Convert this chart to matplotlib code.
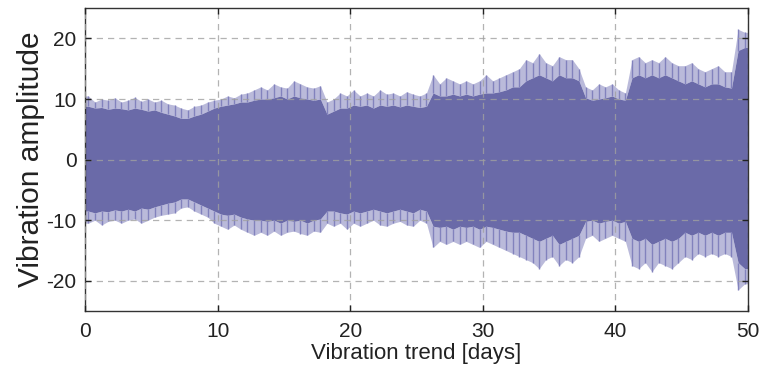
import numpy as np
import matplotlib
matplotlib.use('Agg')
import matplotlib.pyplot as plt

plt.rcParams['font.family'] = ['Liberation Sans', 'DejaVu Sans']
plt.rcParams['axes.unicode_minus'] = False

# envelope of the vibration signal, one value per half day (centres at 0.25, 0.75, ...)
days = np.arange(0.25, 50, 0.5)

upper_body = [
    8.8, 8.5, 8.6, 8.3, 8.5, 8.4, 8.2, 8.5, 8.3, 8.0, 8.2, 7.8, 7.5, 7.2,
    6.8, 6.8, 7.2, 7.5, 8.0, 8.5,
    8.8, 9.0, 9.2, 9.5, 9.5, 9.8,
    10.0, 10.0, 10.2, 10.5, 10.0, 10.5, 10.2, 10.0, 9.8, 10.0,
    7.5, 8.0, 8.5, 8.5,
    9.0, 8.8, 9.0, 8.5, 9.0, 8.8, 9.0, 8.7, 9.0, 8.8, 8.6, 8.8,
    11.0, 10.5, 10.5, 10.8, 10.5, 10.8, 10.5, 10.8, 11.0, 11.0, 11.2, 11.5, 12.0, 12.0,
    13.0, 13.5, 14.0, 13.5, 13.0, 14.0, 13.5, 13.5, 13.0,
    10.2, 9.8, 10.0, 10.2, 10.5, 10.0, 9.8,
    13.5, 14.0, 13.5, 14.0, 13.5, 14.0, 13.5, 13.0,
    12.5, 13.0, 12.5, 12.0, 12.5, 12.5, 12.0, 11.8,
    18.0, 18.5,
]
upper_peak = [
    10.5, 9.5, 10.0, 9.8, 10.2, 9.5, 9.8, 10.3, 9.6, 10.0, 9.5, 9.8, 9.2, 9.0,
    8.5, 8.2, 8.8, 9.0, 9.5, 9.8,
    10.0, 10.5, 10.2, 10.8, 11.0, 11.5,
    12.0, 11.5, 12.5, 12.0, 11.8, 13.0, 12.5, 12.0, 11.8, 12.2,
    9.5, 10.0, 11.0, 10.5,
    11.5, 10.5, 11.0, 10.5, 11.5, 10.8, 11.0, 10.5, 11.2, 10.8, 10.5, 11.0,
    14.0, 12.5, 13.5, 13.0, 12.5, 13.0, 12.5, 13.0, 14.0, 13.0, 13.5, 14.0, 14.5, 15.0,
    16.5, 16.0, 17.5, 16.0, 15.5, 17.0, 16.5, 16.5, 15.0,
    12.0, 11.5, 12.5, 12.0, 12.5, 11.5, 11.0,
    16.5, 17.0, 16.0, 16.5, 16.0, 17.0, 16.0, 15.5,
    15.5, 16.0, 15.0, 14.5, 15.0, 15.5, 14.5, 14.5,
    21.5, 21.0,
]
lower_body = [
    -8.5, -8.8, -8.5, -8.6, -8.3, -8.5, -8.2, -8.5, -8.0, -8.2, -7.8, -7.5, -7.2, -7.0,
    -6.5, -6.5, -7.0, -7.5, -8.0, -8.5,
    -9.0, -9.2, -9.0, -9.5, -9.8, -10.0,
    -10.0, -10.2, -10.0, -10.5, -10.0, -10.2, -10.0, -10.5, -10.0, -9.8,
    -8.5, -8.5, -8.8, -9.0,
    -8.5, -8.8, -8.5, -8.2, -8.5, -8.8, -8.5, -8.2, -8.5, -8.8, -8.2, -8.5,
    -11.0, -11.2, -11.0, -11.5, -11.0, -11.2, -11.0, -11.5, -11.0, -11.2, -11.5, -11.8, -12.0, -12.0,
    -12.5, -13.0, -13.5, -13.0, -12.5, -14.0, -13.5, -13.0, -12.5,
    -10.2, -10.0, -10.5, -10.2, -10.0, -10.5, -10.2,
    -13.0, -13.5, -13.0, -14.0, -13.5, -13.0, -13.5, -13.0,
    -12.0, -12.5, -12.0, -12.5, -12.0, -12.5, -12.0, -12.0,
    -17.0, -18.0,
]
lower_peak = [
    -10.5, -10.0, -10.8, -10.2, -10.0, -10.5, -10.0, -9.8, -10.5, -10.0, -9.5, -9.2, -9.0, -8.8,
    -8.0, -7.8, -8.5, -9.0, -9.5, -10.5,
    -11.0, -11.5, -10.8, -11.5, -12.0, -12.5,
    -12.0, -12.5, -11.8, -12.5, -12.0, -11.8, -12.2, -12.5, -11.8, -12.0,
    -10.5, -11.0, -10.5, -11.5,
    -10.5, -11.0, -10.5, -10.0, -10.8, -11.0, -10.5, -10.2, -10.8, -11.0, -10.0, -10.5,
    -14.5, -13.5, -14.0, -13.5, -14.0, -13.5, -14.0, -14.5, -13.5, -14.0, -14.5, -15.0, -15.5, -16.0,
    -16.5, -17.0, -18.0, -16.5, -16.0, -17.5, -16.5, -17.0, -16.0,
    -13.0, -12.5, -13.5, -13.0, -12.5, -13.0, -13.5,
    -17.5, -18.0, -17.0, -18.5, -17.0, -17.5, -18.0, -17.0,
    -16.0, -16.5, -15.5, -16.0, -15.5, -16.0, -15.5, -16.0,
    -21.5, -20.5,
]

body_color = '#6a6aa8'
spike_color = '#8282bd'

# extend the half-day envelopes to the ends of the record
x_ext = np.r_[0, days, 50]
def ext(v):
    return np.r_[v[0], v, v[-1]]

fig = plt.figure(figsize=(7.63, 3.69), dpi=100)
ax = fig.add_axes([0.1114, 0.157, 0.869, 0.821])

# faint band up to the peaks, single spikes, then the dense body
ax.fill_between(x_ext, ext(upper_body), ext(upper_peak),
                color=spike_color, alpha=0.55, linewidth=0)
ax.fill_between(x_ext, ext(lower_peak), ext(lower_body),
                color=spike_color, alpha=0.55, linewidth=0)
ax.vlines(days, upper_body, upper_peak, color=spike_color, linewidth=1.0)
ax.vlines(days, lower_peak, lower_body, color=spike_color, linewidth=1.0)
ax.fill_between(x_ext, ext(lower_body), ext(upper_body),
                color=body_color, linewidth=0)

ax.set_xlim(0, 50)
ax.set_ylim(-25, 25)
ax.set_xticks([0, 10, 20, 30, 40, 50])
ax.set_yticks([-20, -10, 0, 10, 20])

ax.grid(True, linestyle=(0, (5, 4)), color='#a0a0a0', linewidth=0.9, alpha=0.8)
ax.set_axisbelow(False)

ax.tick_params(direction='in', length=4, width=1, top=True, right=True,
               labelsize=15, colors='#222222')
ax.tick_params(axis='x', pad=8)
ax.tick_params(axis='y', pad=6)
for s in ax.spines.values():
    s.set_color('#333333')
    s.set_linewidth(1.0)

ax.set_xlabel('Vibration trend [days]', fontsize=16, color='#222222', labelpad=1)
ax.set_ylabel('Vibration amplitude', fontsize=21.5, color='#222222', labelpad=1)

fig.savefig('out.png', dpi=100)
